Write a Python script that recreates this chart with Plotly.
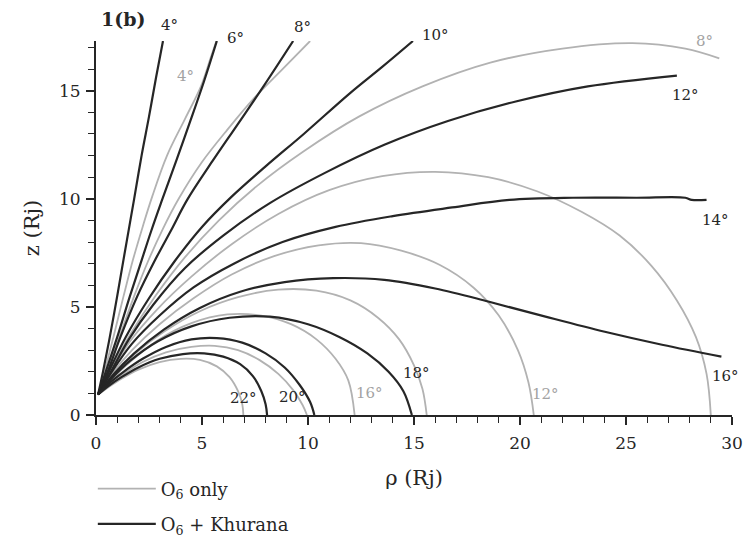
import plotly.graph_objects as go

# ---------------- data ----------------
# O6 + Khurana (black) field lines, labelled by latitude
b4_x = [0.1, 0.33, 0.65, 1.0, 1.3, 1.55, 1.8, 2.15, 2.5, 2.83, 3.16]
b4_y = [0.95, 2.0, 3.6, 5.5, 7.2, 8.6, 10.0, 12.0, 13.8, 15.6, 17.3]
b6_x = [0.1, 0.46, 1.0, 1.6, 2.1, 2.6, 3.1, 3.8, 4.45, 5.1, 5.7]
b6_y = [0.95, 2.0, 3.6, 5.5, 7.0, 8.5, 9.9, 11.8, 13.6, 15.45, 17.3]
b8_x = [0.1, 0.55, 1.15, 1.95, 2.75, 3.55, 4.3, 5.5, 6.65, 7.9, 9.3]
b8_y = [0.95, 2.0, 3.6, 5.5, 7.1, 8.56, 9.95, 11.75, 13.4, 15.2, 17.3]
b10_x = [0.1, 0.6, 1.4, 2.5, 3.7, 5.0, 6.4, 8.0, 9.8, 12.0, 13.5, 14.95]
b10_y = [0.95, 2.0, 3.6, 5.4, 7.1, 8.7, 10.1, 11.5, 13.0, 14.9, 16.1, 17.3]
b12_x = [0.1, 0.7, 1.55, 2.7, 4.2, 6.0, 8.2, 10.8, 13.6, 16.6, 19.8, 23.2, 27.4]
b12_y = [0.95, 2.0, 3.5, 5.1, 6.8, 8.3, 9.8, 11.2, 12.5, 13.6, 14.5, 15.2, 15.7]
b14_x = [0.1, 0.75, 1.7, 3.0, 4.6, 6.5, 8.8, 11.3, 14.0, 16.8, 19.5, 22.5, 25.5, 27.8, 28.1, 28.8]
b14_y = [0.95, 2.0, 3.3, 4.6, 5.9, 7.0, 8.0, 8.7, 9.2, 9.6, 9.95, 10.05, 10.05, 10.05, 9.95, 9.95]
b16_x = [0.1, 0.8, 1.8, 3.2, 4.9, 6.8, 8.9, 11.2, 13.6, 16.0, 18.5, 21.2, 24.0, 26.7, 29.5]
b16_y = [0.95, 1.85, 2.85, 3.95, 4.95, 5.7, 6.15, 6.33, 6.25, 5.85, 5.25, 4.55, 3.85, 3.25, 2.7]
b18_x = [0.1, 0.7, 1.6, 2.9, 4.5, 6.3, 8.2, 10.0, 11.5, 12.8, 13.8, 14.5, 14.9]
b18_y = [0.95, 1.65, 2.5, 3.4, 4.1, 4.5, 4.55, 4.2, 3.6, 2.85, 2.0, 1.1, 0.0]
b20_x = [0.1, 0.6, 1.3, 2.2, 3.3, 4.5, 5.7, 6.9, 8.0, 8.9, 9.6, 10.1, 10.3]
b20_y = [0.95, 1.45, 2.0, 2.6, 3.15, 3.5, 3.56, 3.35, 2.85, 2.2, 1.4, 0.6, 0.0]
b22_x = [0.1, 0.6, 1.2, 2.0, 3.0, 4.1, 5.1, 6.0, 6.8, 7.4, 7.8, 8.0, 8.07]
b22_y = [0.95, 1.35, 1.75, 2.2, 2.6, 2.82, 2.85, 2.7, 2.35, 1.8, 1.1, 0.5, 0.0]

# O6 only (grey) field lines
g4_x = [0.1, 0.4, 0.82, 1.3, 1.75, 2.2, 2.65, 3.35, 4.2, 4.95, 5.4, 5.68]
g4_y = [0.95, 2.0, 3.6, 5.5, 7.2, 8.7, 10.1, 12.0, 13.7, 15.2, 16.5, 17.3]
g6_x = [0.1, 0.5, 1.1, 1.8, 2.45, 3.15, 3.9, 5.0, 6.2, 7.5, 8.8, 10.1]
g6_y = [0.95, 2.0, 3.6, 5.5, 7.1, 8.6, 10.0, 11.7, 13.2, 14.7, 16.0, 17.3]
g8_x = [0.1, 0.7, 1.6, 2.8, 4.2, 5.8, 7.6, 9.8, 12.4, 15.4, 18.6, 22.0, 25.3, 27.8, 29.4]
g8_y = [0.95, 2.1, 3.7, 5.5, 7.3, 9.0, 10.6, 12.2, 13.8, 15.2, 16.3, 16.95, 17.2, 16.95, 16.5]
g10_x = [0.1, 0.7, 1.6, 2.9, 4.5, 6.4, 8.6, 11.0, 13.5, 16.0, 18.5, 20.8, 22.9, 24.7, 26.2, 27.4, 28.3, 28.8, 29.0]
g10_y = [0.95, 2.0, 3.4, 4.9, 6.4, 7.9, 9.3, 10.4, 11.05, 11.25, 11.0, 10.35, 9.4, 8.3, 6.9, 5.3, 3.6, 1.9, 0.0]
g12_x = [0.1, 0.75, 1.7, 3.0, 4.6, 6.4, 8.4, 10.5, 12.5, 14.4, 16.2, 17.8, 19.0, 19.9, 20.4, 20.65]
g12_y = [0.95, 1.9, 3.0, 4.2, 5.4, 6.5, 7.35, 7.85, 7.95, 7.6, 6.95, 5.9, 4.6, 3.0, 1.5, 0.0]
g14_x = [0.1, 0.8, 1.8, 3.2, 4.9, 6.7, 8.6, 10.4, 12.0, 13.3, 14.3, 15.0, 15.4, 15.6]
g14_y = [0.95, 1.8, 2.8, 3.85, 4.8, 5.45, 5.8, 5.75, 5.3, 4.5, 3.5, 2.3, 1.2, 0.0]
g16_x = [0.1, 0.7, 1.6, 2.9, 4.5, 6.2, 7.8, 9.2, 10.4, 11.3, 11.9, 12.2]
g16_y = [0.95, 1.6, 2.45, 3.45, 4.25, 4.65, 4.6, 4.2, 3.5, 2.6, 1.6, 0.0]
g18_x = [0.1, 0.6, 1.3, 2.2, 3.3, 4.5, 5.6, 6.7, 7.7, 8.6, 9.3, 9.75, 9.95]
g18_y = [0.95, 1.4, 1.9, 2.45, 2.9, 3.15, 3.2, 3.0, 2.55, 1.9, 1.15, 0.45, 0.0]
g20_x = [0.1, 0.6, 1.2, 2.0, 3.0, 4.0, 4.9, 5.7, 6.3, 6.7, 6.9, 6.95]
g20_y = [0.95, 1.3, 1.68, 2.1, 2.45, 2.6, 2.55, 2.25, 1.75, 1.1, 0.5, 0.0]

black_lines = [(b4_x, b4_y), (b6_x, b6_y), (b8_x, b8_y), (b10_x, b10_y), (b12_x, b12_y),
               (b14_x, b14_y), (b16_x, b16_y), (b18_x, b18_y), (b20_x, b20_y), (b22_x, b22_y)]
grey_lines = [(g4_x, g4_y), (g6_x, g6_y), (g8_x, g8_y), (g10_x, g10_y), (g12_x, g12_y),
              (g14_x, g14_y), (g16_x, g16_y), (g18_x, g18_y), (g20_x, g20_y)]

# labels: text, x (data), y (data units, may lie above the axis top)
black_labels = [("4°", 3.45, 18.05), ("6°", 6.6, 17.45), ("8°", 9.75, 17.95), ("10°", 16.0, 17.6),
                ("12°", 27.8, 14.8), ("14°", 29.2, 9.0), ("16°", 29.7, 1.8),
                ("18°", 15.1, 1.95), ("20°", 9.25, 0.85), ("22°", 6.95, 0.8)]
grey_labels = [("4°", 4.2, 15.7), ("8°", 28.7, 17.3), ("12°", 21.2, 0.95), ("16°", 12.9, 1.0)]

Y_TOP = 17.3
SERIF = "DejaVu Serif"
BLACK = "#262626"
GREY = "#b2b2b2"

fig = go.Figure()
for i, (xs, ys) in enumerate(grey_lines):
    fig.add_trace(go.Scatter(x=xs, y=ys, mode="lines", line=dict(color=GREY, width=1.8, shape="spline"),
                             name="O<sub>6</sub> only", showlegend=(i == 0), legendgroup="grey",
                             hoverinfo="skip"))
for i, (xs, ys) in enumerate(black_lines):
    fig.add_trace(go.Scatter(x=xs, y=ys, mode="lines", line=dict(color=BLACK, width=2.2, shape="spline"),
                             name="O<sub>6</sub> + Khurana", showlegend=(i == 0), legendgroup="black",
                             hoverinfo="skip"))

for t, x, y in black_labels:
    fig.add_annotation(x=x, y=y / Y_TOP, text=t, showarrow=False, xref="x", yref="paper",
                       font=dict(family=SERIF, size=15, color=BLACK), yanchor="middle", xanchor="center")
for t, x, y in grey_labels:
    fig.add_annotation(x=x, y=y / Y_TOP, text=t, showarrow=False, xref="x", yref="paper",
                       font=dict(family=SERIF, size=15, color="#a3a3a3"), yanchor="middle", xanchor="center")

fig.add_annotation(x=0.005, y=1.06, xref="paper", yref="paper", text="<b>1(b)</b>", showarrow=False,
                   font=dict(family=SERIF, size=19, color=BLACK), xanchor="left", yanchor="middle")

axis_common = dict(showline=True, linecolor=BLACK, linewidth=2, ticks="outside", ticklen=8,
                   tickwidth=1.5, tickcolor=BLACK, showgrid=False, zeroline=False,
                   tickfont=dict(family=SERIF, size=17, color=BLACK),
                   minor=dict(ticks="outside", ticklen=6, tickwidth=1.2, tickcolor=BLACK, dtick=1, showgrid=False))

fig.update_layout(
    width=751, height=539,
    margin=dict(l=96, r=19, t=41, b=124, autoexpand=False),
    paper_bgcolor="white", plot_bgcolor="white",
    xaxis=dict(range=[0, 30], tick0=0, dtick=5, ticklabelstandoff=4,
               title=dict(text="ρ (Rj)", font=dict(family=SERIF, size=21, color=BLACK), standoff=18),
               **axis_common),
    yaxis=dict(range=[0, Y_TOP], tick0=0, dtick=5, ticklabelstandoff=2,
               title=dict(text="z (Rj)", font=dict(family=SERIF, size=21, color=BLACK), standoff=14),
               **axis_common),
    legend=dict(x=-0.005, y=-0.148, xanchor="left", yanchor="top", bgcolor="rgba(0,0,0,0)",
                traceorder="grouped", tracegroupgap=9, itemwidth=58,
                font=dict(family=SERIF, size=18, color=BLACK)),
)

fig.write_html("out.html")
